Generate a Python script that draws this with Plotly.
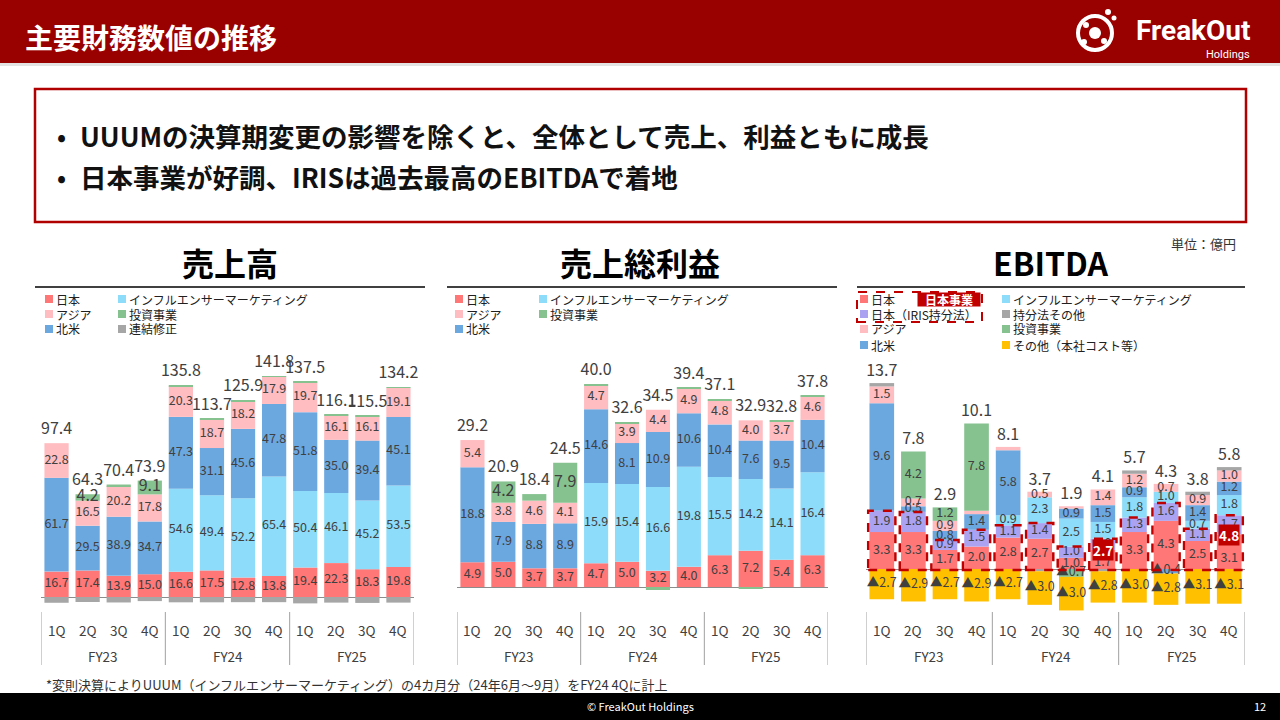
import plotly.graph_objects as go

W, H = 1280, 720

# ---------------- data ----------------
quarters = ["1Q", "2Q", "3Q", "4Q", "1Q", "2Q", "3Q", "4Q", "1Q", "2Q", "3Q", "4Q"]
fiscal_years = ["FY23", "FY24", "FY25"]

# 売上高
sales_names = ["日本", "インフルエンサーマーケティング", "北米", "アジア", "投資事業", "連結修正"]
sales_japan = [16.7, 17.4, 13.9, 15.0, 16.6, 17.5, 12.8, 13.8, 19.4, 22.3, 18.3, 19.8]
sales_infl = [0, 0, 0, 0, 54.6, 49.4, 52.2, 65.4, 50.4, 46.1, 45.2, 53.5]
sales_na = [61.7, 29.5, 38.9, 34.7, 47.3, 31.1, 45.6, 47.8, 51.8, 35.0, 39.4, 45.1]
sales_asia = [22.8, 16.5, 20.2, 17.8, 20.3, 18.7, 18.2, 17.9, 19.7, 16.1, 16.1, 19.1]
sales_inv = [0, 4.2, 1.0, 9.1, 0.5, 0.5, 0.5, 0.3, 0.4, 0.3, 0.4, 0.4]
sales_adj = [-3.8, -3.3, -3.6, -2.7, -3.5, -3.5, -3.4, -3.4, -4.2, -3.7, -3.9, -3.7]
sales_total = [97.4, 64.3, 70.4, 73.9, 135.8, 113.7, 125.9, 141.8, 137.5, 116.1, 115.5, 134.2]

# 売上総利益
gp_names = ["日本", "インフルエンサーマーケティング", "北米", "アジア", "投資事業"]
gp_japan = [4.9, 5.0, 3.7, 3.7, 4.7, 5.0, 3.2, 4.0, 6.3, 7.2, 5.4, 6.3]
gp_infl = [0, 0, 0, 0, 15.9, 15.4, 16.6, 19.8, 15.5, 14.2, 14.1, 16.4]
gp_na = [18.8, 7.9, 8.8, 8.9, 14.6, 8.1, 10.9, 10.6, 10.4, 7.6, 9.5, 10.4]
gp_asia = [5.4, 3.8, 4.6, 4.1, 4.7, 3.9, 4.4, 4.9, 4.8, 4.0, 3.7, 4.6]
gp_inv = [0, 4.2, 1.3, 7.9, 0.2, 0.2, -0.6, 0.2, 0.2, -0.2, 0.2, 0.2]
gp_total = [29.2, 20.9, 18.4, 24.5, 40.0, 32.6, 34.5, 39.4, 37.1, 32.9, 32.8, 37.8]

# EBITDA
eb_names = ["日本", "日本（IRIS持分法）", "インフルエンサーマーケティング", "北米", "アジア",
            "投資事業", "持分法その他", "その他（本社コスト等）"]
eb_japan = [3.3, 3.3, 1.7, 2.0, 2.8, 2.7, 1.0, 1.7, 3.3, 4.3, 2.5, 3.1]
eb_iris = [1.9, 1.8, 0.9, 1.5, 1.1, 1.4, 1.0, 1.0, 1.3, 1.6, 1.1, 1.7]
eb_infl = [0, 0, 0, 0, 0.9, 2.3, 2.5, 1.5, 1.8, 1.0, 0.7, 1.8]
eb_na = [9.6, 0.5, 0.8, 1.4, 5.8, 0, 0.9, 1.5, 0.9, -0.4, 1.4, 1.2]
eb_asia = [1.5, 0.7, 0.9, 0.3, 0.3, 0.5, 0.2, 1.4, 1.2, 0.7, 0.9, 1.0]
eb_inv = [0, 4.2, 1.2, 7.8, 0, 0, -0.7, 0, 0, 0, 0, 0]
eb_eq_other = [0.3, 0, 0, 0, 0, -0.2, 0, -0.2, 0.3, 0, 0.3, 0.3]
eb_hq = [-2.7, -2.9, -2.7, -2.9, -2.7, -3.0, -3.0, -2.8, -3.0, -2.8, -3.1, -3.1]
eb_total = [13.7, 7.8, 2.9, 10.1, 8.1, 3.7, 1.9, 4.1, 5.7, 4.3, 3.8, 5.8]
japan_business = [None, None, None, None, None, None, None, 2.7, None, None, None, 4.8]

# ---------------- style ----------------
C_JP = "#FF7777"
C_INF = "#8DDCF9"
C_NA = "#6CA8E0"
C_ASIA = "#FFBDC1"
C_INV = "#86C28F"
C_GRAY = "#A6A6A6"
C_IRIS = "#ABA3F2"
C_HQ = "#FFC000"
DARKRED = "#C00000"
TXT = "#404040"
FONT = "Noto Sans CJK JP"

# layout geometry (pixels)
x_domains = [(41, 414), (457, 828), (866, 1245)]
y_domains = [(350, 610), (350, 610), (370, 615)]
baselines = [597, 587, 569]
scales = [1.52, 5.05, 11.2]          # pixels per unit
total_gap_px = [5, 5, 3]             # extra lift of the total labels


def px(x):
    return x / W


def py(y):
    return 1 - y / H


fig = go.Figure()
X = list(range(len(quarters)))


def fmt(v):
    return f"{v:.1f}" if v >= 0 else f"▲{abs(v):.1f}"


def add_stack(ax, series, colors, thresholds, sizes, totals, total_size=16, label_y_override=None):
    xa = "x" if ax == 1 else f"x{ax}"
    ya = "y" if ax == 1 else f"y{ax}"
    pos = [0.0] * 12
    neg = [0.0] * 12
    for si, (name, vals) in enumerate(series):
        fig.add_trace(go.Bar(x=X, y=vals, name=name, marker=dict(color=colors[si], line=dict(width=0)),
                             xaxis=xa, yaxis=ya, hoverinfo="skip"))
        lx, ly, lt = [], [], []
        for i, v in enumerate(vals):
            if v >= 0:
                mid = pos[i] + v / 2
                pos[i] += v
            else:
                mid = neg[i] + v / 2
                neg[i] += v
            if thresholds[si] is not None and abs(v) >= thresholds[si]:
                if label_y_override and (si, i) in label_y_override:
                    mid = label_y_override[(si, i)]
                lx.append(i)
                ly.append(mid)
                lt.append(fmt(v))
        if lx:
            fig.add_trace(go.Scatter(x=lx, y=ly, text=lt, mode="text", xaxis=xa, yaxis=ya,
                                     textfont=dict(family=FONT, size=sizes[si], color=TXT),
                                     hoverinfo="skip", cliponaxis=False))
    lift = total_gap_px[ax - 1] / scales[ax - 1]
    fig.add_trace(go.Scatter(x=X, y=[p + lift for p in pos], text=[f"{t:.1f}" for t in totals], mode="text",
                             textposition="top center", xaxis=xa, yaxis=ya,
                             textfont=dict(family=FONT, size=total_size, color=TXT),
                             hoverinfo="skip", cliponaxis=False))
    return pos


# chart 1
add_stack(1,
          [(sales_names[0], sales_japan), (sales_names[1], sales_infl), (sales_names[2], sales_na),
           (sales_names[3], sales_asia), (sales_names[4], sales_inv), (sales_names[5], sales_adj)],
          [C_JP, C_INF, C_NA, C_ASIA, C_INV, C_GRAY],
          [2, 2, 2, 2, 2, None], [12.5, 12.5, 12.5, 12.5, 16, 12], sales_total)

# chart 2
add_stack(2,
          [(gp_names[0], gp_japan), (gp_names[1], gp_infl), (gp_names[2], gp_na),
           (gp_names[3], gp_asia), (gp_names[4], gp_inv)],
          [C_JP, C_INF, C_NA, C_ASIA, C_INV],
          [2, 2, 2, 2, 2], [12.5, 12.5, 12.5, 12.5, 16], gp_total)

# chart 3
override = {}
for i, jb in enumerate(japan_business):
    if jb is not None:
        override[(0, i)] = eb_japan[i] * 0.3
add_stack(3,
          [(eb_names[0], eb_japan), (eb_names[1], eb_iris), (eb_names[2], eb_infl), (eb_names[3], eb_na),
           (eb_names[4], eb_asia), (eb_names[5], eb_inv), (eb_names[6], eb_eq_other), (eb_names[7], eb_hq)],
          [C_JP, C_IRIS, C_INF, C_NA, C_ASIA, C_INV, C_GRAY, C_HQ],
          [0.4, 0.4, 0.4, 0.4, 0.4, 0.4, None, 0.4], [12.5] * 8, eb_total, label_y_override=override)

shapes = []
annotations = []

# dashed boxes around 日本事業 (日本 + IRIS)
for i in X:
    shapes.append(dict(type="rect", xref="x3", yref="y3", x0=i - 0.43, x1=i + 0.43, y0=-0.1,
                       y1=eb_japan[i] + eb_iris[i], line=dict(color=DARKRED, width=2.5, dash="dash"),
                       fillcolor="rgba(0,0,0,0)", layer="above"))
    if japan_business[i] is not None:
        annotations.append(dict(xref="x3", yref="y3", x=i, y=eb_japan[i] * 0.98, text=f"<b>{japan_business[i]:.1f}</b>",
                                showarrow=False, bgcolor=DARKRED, borderpad=0,
                                font=dict(family=FONT, size=13.5, color="white")))

# axes
layout_axes = {}
for k in range(3):
    sx = "xaxis" if k == 0 else f"xaxis{k+1}"
    sy = "yaxis" if k == 0 else f"yaxis{k+1}"
    ytop, ybot = y_domains[k]
    b, s = baselines[k], scales[k]
    layout_axes[sx] = dict(domain=[px(x_domains[k][0]), px(x_domains[k][1])], range=[-0.5, 11.5],
                           showgrid=False, zeroline=False, showticklabels=False, showline=False,
                           anchor="y" if k == 0 else f"y{k+1}")
    layout_axes[sy] = dict(domain=[py(ybot), py(ytop)], range=[-(ybot - b) / s, (b - ytop) / s],
                           showgrid=False, zeroline=True, zerolinecolor="#8C8C8C", zerolinewidth=1.2,
                           showticklabels=False, anchor="x" if k == 0 else f"x{k+1}")
    xr = "x" if k == 0 else f"x{k+1}"
    # quarter labels
    for i, q in enumerate(quarters):
        annotations.append(dict(xref=xr, yref="paper", x=i, y=py(630), text=q, showarrow=False,
                                font=dict(family=FONT, size=13.5, color=TXT)))
    for g, fy in enumerate(fiscal_years):
        annotations.append(dict(xref=xr, yref="paper", x=g * 4 + 1.5, y=py(656), text=fy, showarrow=False,
                                font=dict(family=FONT, size=13.5, color=TXT)))
    for sep in [-0.5, 3.5, 7.5, 11.5]:
        shapes.append(dict(type="line", xref=xr, yref="paper", x0=sep, x1=sep, y0=py(612), y1=py(665),
                           line=dict(color="#A0A0A0", width=1)))

# chart titles and rules
titles = [("売上高", 230, 35, 425), ("売上総利益", 640, 447, 837), ("EBITDA", 1050, 857, 1245)]
for t, cx, l, r in titles:
    annotations.append(dict(xref="paper", yref="paper", x=px(cx), y=py(262), text=f"<b>{t}</b>",
                            showarrow=False, font=dict(family=FONT, size=32, color="#000000")))
    shapes.append(dict(type="line", xref="paper", yref="paper", x0=px(l), x1=px(r), y0=py(287), y1=py(287),
                       line=dict(color="#000000", width=1.5)))


def legend(items, cols_x, rows_y, sq=8):
    nrows = len(rows_y)
    for n, (name, color) in enumerate(items):
        c, r = n // nrows, n % nrows
        x0, y = cols_x[c], rows_y[r]
        shapes.append(dict(type="rect", xref="paper", yref="paper", x0=px(x0), x1=px(x0 + sq),
                           y0=py(y + sq / 2), y1=py(y - sq / 2), fillcolor=color, line=dict(width=0)))
        annotations.append(dict(xref="paper", yref="paper", x=px(x0 + sq + 1), y=py(y), text=name,
                                showarrow=False, xanchor="left", yanchor="middle",
                                font=dict(family=FONT, size=12, color="#202020")))


legend([(sales_names[0], C_JP), (sales_names[3], C_ASIA), (sales_names[2], C_NA),
        (sales_names[1], C_INF), (sales_names[4], C_INV), (sales_names[5], C_GRAY)],
       [45, 118], [299, 314, 329])
legend([(gp_names[0], C_JP), (gp_names[3], C_ASIA), (gp_names[2], C_NA),
        (gp_names[1], C_INF), (gp_names[4], C_INV)],
       [455, 539], [299, 314, 329])
legend([(eb_names[0], C_JP), (eb_names[1], C_IRIS), (eb_names[4], C_ASIA), (eb_names[3], C_NA),
        (eb_names[2], C_INF), (eb_names[6], C_GRAY), (eb_names[5], C_INV), (eb_names[7], C_HQ)],
       [860, 1002], [299, 314, 329, 345])
# 日本事業 marker in EBITDA legend
shapes.append(dict(type="rect", xref="paper", yref="paper", x0=px(857), x1=px(982), y0=py(322), y1=py(292),
                   line=dict(color=DARKRED, width=2, dash="dash")))
annotations.append(dict(xref="paper", yref="paper", x=px(949), y=py(299.5), text="<b>日本事業</b>",
                        showarrow=False, bgcolor=DARKRED, width=62, height=13, borderpad=0,
                        font=dict(family=FONT, size=12, color="white")))

# header
shapes.append(dict(type="rect", xref="paper", yref="paper", x0=0, x1=1, y0=py(63), y1=1,
                   fillcolor="#990000", line=dict(width=0), layer="below"))
shapes.append(dict(type="rect", xref="paper", yref="paper", x0=0, x1=1, y0=py(66), y1=py(63),
                   fillcolor="#E3E3E3", line=dict(width=0), layer="below"))
annotations.append(dict(xref="paper", yref="paper", x=px(23), y=py(37), text="<b>主要財務数値の推移</b>",
                        showarrow=False, xanchor="left", font=dict(family=FONT, size=28, color="white")))
# logo
annotations.append(dict(xref="paper", yref="paper", x=px(1253), y=py(31), text="<b>FreakOut</b>",
                        showarrow=False, xanchor="right", font=dict(family="Roboto", size=28, color="white")))
annotations.append(dict(xref="paper", yref="paper", x=px(1252), y=py(55), text="Holdings",
                        showarrow=False, xanchor="right", font=dict(family="Roboto", size=11, color="white")))
shapes.append(dict(type="circle", xref="paper", yref="paper", x0=px(1078), x1=px(1112), y0=py(50), y1=py(16),
                   line=dict(color="white", width=4)))
for (cx, cy, r) in [(1095, 33, 6), (1086, 25, 3), (1104, 41, 3), (1108, 12, 3), (1114, 18, 2.5), (1084, 42, 3)]:
    shapes.append(dict(type="circle", xref="paper", yref="paper", x0=px(cx - r), x1=px(cx + r),
                       y0=py(cy + r), y1=py(cy - r), fillcolor="white", line=dict(width=0)))

# message box
shapes.append(dict(type="rect", xref="paper", yref="paper", x0=px(35), x1=px(1246), y0=py(222), y1=py(89),
                   line=dict(color="#B00000", width=2.5)))
bullets = ["UUUMの決算期変更の影響を除くと、全体として売上、利益ともに成長",
           "日本事業が好調、IRISは過去最高のEBITDAで着地"]
for n, b in enumerate(bullets):
    yy = 135 + n * 41
    annotations.append(dict(xref="paper", yref="paper", x=px(55), y=py(yy), text="<b>•</b>", showarrow=False,
                            xanchor="left", font=dict(family=FONT, size=24, color="#111111")))
    annotations.append(dict(xref="paper", yref="paper", x=px(78), y=py(yy), text=f"<b>{b}</b>", showarrow=False,
                            xanchor="left", font=dict(family=FONT, size=26.5, color="#111111")))

annotations.append(dict(xref="paper", yref="paper", x=px(1238), y=py(243), text="単位：億円", showarrow=False,
                        xanchor="right", font=dict(family=FONT, size=13, color="#333333")))

annotations.append(dict(xref="paper", yref="paper", x=px(44), y=py(684),
                        text="*変則決算によりUUUM（インフルエンサーマーケティング）の4カ月分（24年6月～9月）をFY24 4Qに計上",
                        showarrow=False, xanchor="left", font=dict(family=FONT, size=13, color="#333333")))

# footer
shapes.append(dict(type="rect", xref="paper", yref="paper", x0=0, x1=1, y0=0, y1=py(693),
                   fillcolor="#000000", line=dict(width=0), layer="below"))
annotations.append(dict(xref="paper", yref="paper", x=0.5, y=py(706), text="© FreakOut Holdings",
                        showarrow=False, font=dict(family=FONT, size=11, color="white")))
annotations.append(dict(xref="paper", yref="paper", x=px(1268), y=py(706), text="12", xanchor="right",
                        showarrow=False, font=dict(family=FONT, size=11, color="white")))

for a in annotations:
    a.setdefault("xanchor", "center")
    a.setdefault("yanchor", "middle")

fig.update_layout(
    width=W, height=H, margin=dict(l=0, r=0, t=0, b=0),
    paper_bgcolor="white", plot_bgcolor="rgba(0,0,0,0)",
    barmode="relative", bargap=0.22, showlegend=False,
    shapes=shapes, annotations=annotations,
    font=dict(family=FONT),
    **layout_axes,
)

fig.write_html("out.html", config={"displayModeBar": False})
